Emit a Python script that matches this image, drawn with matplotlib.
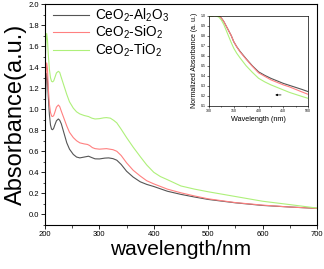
import matplotlib
matplotlib.use('Agg')
import matplotlib.pyplot as plt
from matplotlib.ticker import MultipleLocator

plt.rcParams['font.family'] = ['Liberation Sans', 'DejaVu Sans']
plt.rcParams['mathtext.fontset'] = 'custom'
plt.rcParams['mathtext.rm'] = 'Liberation Sans'

# ---- main spectra ----
wl_al = [200, 201.5, 203, 204.5, 206, 208, 210, 212, 214, 216, 218, 221, 224.5, 227, 230, 235, 240,
         245, 252, 258, 264, 272, 280, 286, 292, 300, 310, 317, 325, 332, 340, 350, 362, 375, 387,
         400, 425, 450, 475, 500, 550, 600, 650, 700]
abs_al = [0.95, 1.2, 1.34, 1.28, 1.12, 0.95, 0.85, 0.81, 0.805, 0.82, 0.85, 0.89, 0.907, 0.895, 0.86,
          0.77, 0.68, 0.62, 0.57, 0.545, 0.537, 0.545, 0.553, 0.54, 0.528, 0.527, 0.535, 0.537, 0.53,
          0.515, 0.475, 0.41, 0.355, 0.31, 0.285, 0.265, 0.22, 0.19, 0.165, 0.142, 0.11, 0.085, 0.07,
          0.057]

wl_si = [200, 201.5, 203, 204.5, 206, 208, 210, 212, 214, 216, 218, 221, 224.5, 227, 230, 235, 240,
         245, 252, 258, 264, 272, 278, 282, 287, 292, 300, 313, 325, 332, 340, 350, 362, 375, 387,
         400, 425, 450, 475, 500, 550, 600, 650, 700]
abs_si = [1.05, 1.3, 1.44, 1.38, 1.2, 1.05, 0.97, 0.935, 0.93, 0.94, 0.97, 1.02, 1.04, 1.025, 0.98,
          0.91, 0.84, 0.78, 0.73, 0.70, 0.68, 0.67, 0.665, 0.655, 0.635, 0.625, 0.62, 0.625, 0.615,
          0.60, 0.56, 0.49, 0.42, 0.365, 0.32, 0.29, 0.24, 0.205, 0.175, 0.148, 0.112, 0.088, 0.07,
          0.057]

wl_ti = [200, 201.5, 203, 204.5, 206, 208, 210, 212, 214, 216, 218, 221, 224.5, 227, 230, 235, 240,
         245, 252, 258, 264, 272, 280, 286, 292, 300, 308, 313, 320, 326, 332, 340, 350, 362, 375,
         387, 400, 412, 425, 450, 475, 500, 550, 600, 650, 700]
abs_ti = [1.4, 1.62, 1.72, 1.66, 1.52, 1.38, 1.3, 1.265, 1.26, 1.27, 1.3, 1.345, 1.36, 1.35, 1.3,
          1.22, 1.14, 1.07, 1.01, 0.975, 0.955, 0.94, 0.93, 0.915, 0.907, 0.91, 0.918, 0.92, 0.915,
          0.895, 0.87, 0.81, 0.73, 0.64, 0.55, 0.47, 0.40, 0.36, 0.33, 0.27, 0.24, 0.215, 0.17, 0.125,
          0.093, 0.06]

# ---- normalized inset ----
wl_norm = [300, 305, 310, 315, 320, 325, 330, 337.5, 345, 350, 356, 362.5, 375, 387.5, 400, 412.5,
           425, 437.5, 450, 462.5, 475, 487.5, 500]
norm_al = [0.99, 0.995, 1.0, 1.0, 0.995, 0.975, 0.94, 0.87, 0.80, 0.74, 0.69, 0.645, 0.57, 0.50,
           0.44, 0.405, 0.375, 0.35, 0.325, 0.305, 0.285, 0.265, 0.243]
norm_si = [0.99, 0.995, 1.0, 1.0, 0.995, 0.975, 0.94, 0.87, 0.80, 0.74, 0.69, 0.64, 0.565, 0.495,
           0.43, 0.395, 0.36, 0.335, 0.31, 0.29, 0.265, 0.24, 0.216]
norm_ti = [0.99, 0.995, 1.0, 0.995, 0.985, 0.955, 0.91, 0.82, 0.73, 0.675, 0.625, 0.58, 0.50, 0.435,
           0.376, 0.34, 0.31, 0.285, 0.26, 0.235, 0.215, 0.195, 0.176]

labels = [r'CeO$_{\mathregular{2}}$-Al$_{\mathregular{2}}$O$_{\mathregular{3}}$',
          r'CeO$_{\mathregular{2}}$-SiO$_{\mathregular{2}}$',
          r'CeO$_{\mathregular{2}}$-TiO$_{\mathregular{2}}$']
colors = ['#555555', '#ff8080', '#aef07a']

fig = plt.figure(figsize=(3.24, 2.69), dpi=100, facecolor='white')
ax = fig.add_axes([0.139, 0.164, 0.839, 0.821])

for x, y, c, lab in zip([wl_al, wl_si, wl_ti], [abs_al, abs_si, abs_ti], colors, labels):
    ax.plot(x, y, color=c, lw=0.8, label=lab)

ax.set_xlim(200, 700)
ax.set_ylim(-0.1, 2.0)
ax.xaxis.set_major_locator(MultipleLocator(100))
ax.xaxis.set_minor_locator(MultipleLocator(50))
ax.yaxis.set_major_locator(MultipleLocator(0.2))
ax.yaxis.set_minor_locator(MultipleLocator(0.1))
ax.yaxis.set_major_formatter(plt.FuncFormatter(lambda v, _: f'{v:.1f}'))
ax.tick_params(which='major', direction='out', length=3, width=0.6, labelsize=5.5, pad=1.5)
ax.tick_params(which='minor', direction='out', length=1.8, width=0.5)
for s in ax.spines.values():
    s.set_linewidth(0.8)
ax.set_xlabel('wavelength/nm', fontsize=15, labelpad=1)
ax.set_ylabel('Absorbance(a.u.)', fontsize=17, labelpad=1)

ax.legend(loc='upper left', bbox_to_anchor=(0.0, 1.025), frameon=False, fontsize=9.8,
          handlelength=2.6, handletextpad=0.5, labelspacing=0.0, borderaxespad=0.2)

# ---- inset ----
ins = fig.add_axes([0.645, 0.606, 0.306, 0.336])
for y, c in zip([norm_al, norm_si, norm_ti], colors):
    ins.plot(wl_norm, y, color=c, lw=0.8)
ins.annotate('', xy=(428, 0.21), xytext=(451, 0.21),
             arrowprops=dict(arrowstyle='-|>', color='black', lw=0.5, mutation_scale=3))
ins.set_xlim(300, 500)
ins.set_ylim(0.1, 1.0)
ins.xaxis.set_major_locator(MultipleLocator(50))
ins.xaxis.set_minor_locator(MultipleLocator(25))
ins.yaxis.set_major_locator(MultipleLocator(0.1))
ins.yaxis.set_major_formatter(plt.FuncFormatter(lambda v, _: f'{v:.1f}'))
ins.tick_params(which='major', direction='out', length=1.5, width=0.4, labelsize=2.5, pad=1)
ins.tick_params(which='minor', direction='out', length=1, width=0.4)
for s in ins.spines.values():
    s.set_linewidth(0.5)
ins.set_xlabel('Wavelength (nm)', fontsize=5.2, labelpad=1.5)
ins.set_ylabel('Normalized Absorbance (a. u.)', fontsize=5.0, labelpad=1.5)

fig.savefig('out.png', dpi=100, facecolor='white')
